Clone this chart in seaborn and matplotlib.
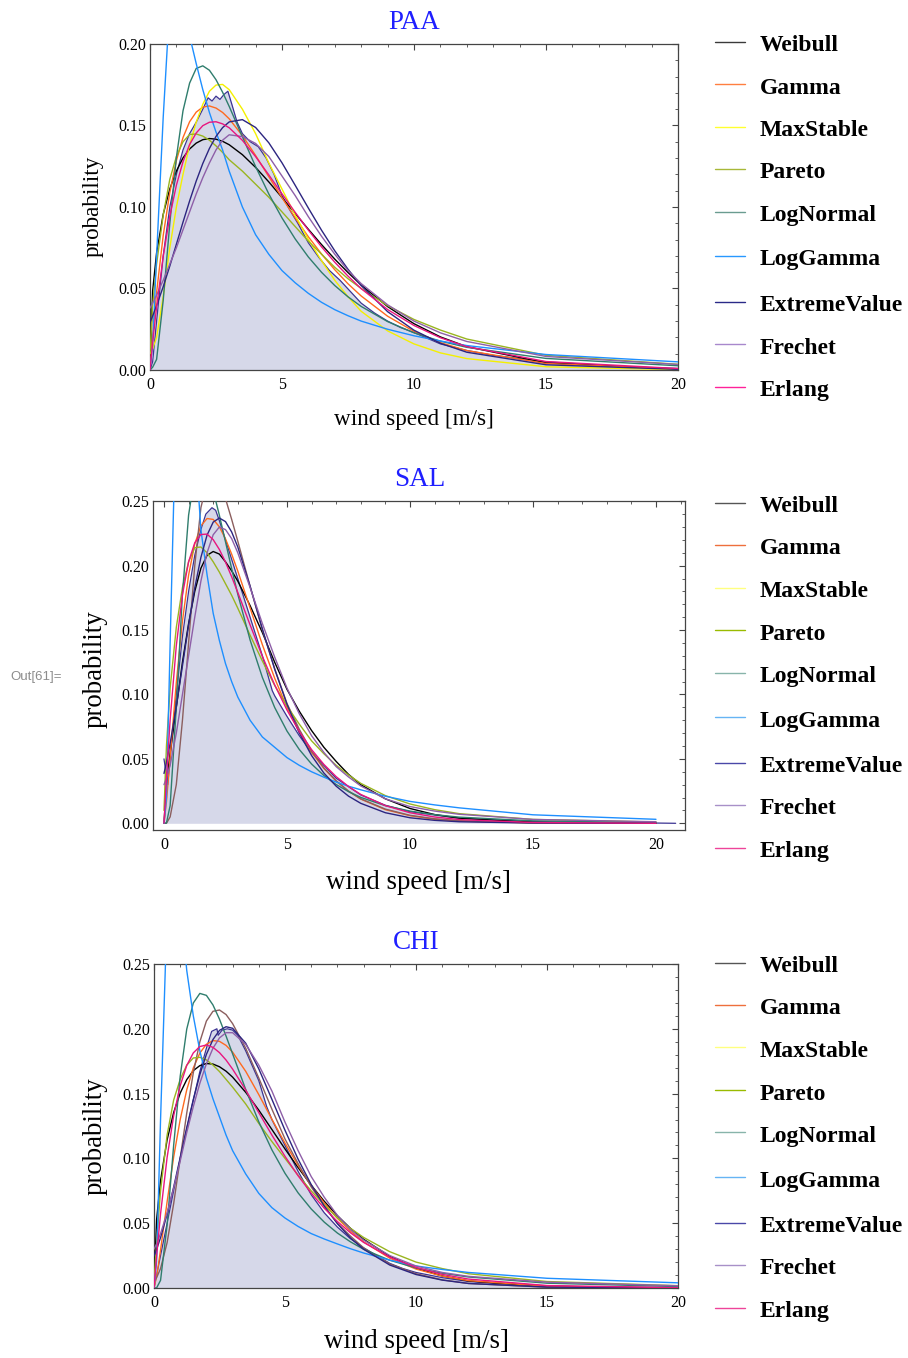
import matplotlib
matplotlib.use("Agg")
import matplotlib.pyplot as plt
from matplotlib.lines import Line2D
from matplotlib.ticker import MultipleLocator, FormatStrFormatter
import pandas as pd
import seaborn as sns

# ---------------- data ----------------
DISTS = ["Weibull", "Gamma", "MaxStable", "Pareto", "LogNormal",
         "LogGamma", "ExtremeValue", "Frechet", "Erlang"]
TITLES = ["PAA", "SAL", "CHI"]

X = [0, 0.1, 0.25, 0.5, 0.75, 1, 1.25, 1.5, 1.75, 2, 2.25, 2.5, 2.75, 3,
     3.5, 4, 4.5, 5, 5.5, 6, 6.5, 7, 7.5, 8, 9, 10, 11, 12, 15, 20]

# PAA
PAA_WEIBULL = [0, 0.0485, 0.0719, 0.0955, 0.1111, 0.1221, 0.1301, 0.1356, 0.1392, 0.1413, 0.142, 0.1416, 0.1403, 0.1382, 0.1321, 0.1243, 0.1154,
               0.1058, 0.096, 0.0863, 0.0769, 0.068, 0.0598, 0.0521, 0.0389, 0.0284, 0.0203, 0.0143, 0.0044, 0.0005]
PAA_GAMMA = [0, 0.0213, 0.0476, 0.0825, 0.1089, 0.1285, 0.1426, 0.1523, 0.1582, 0.1613, 0.162, 0.1607, 0.158, 0.1541, 0.1438, 0.1316, 0.1186,
             0.1057, 0.0933, 0.0817, 0.0711, 0.0615, 0.0529, 0.0454, 0.033, 0.0237, 0.0168, 0.0119, 0.004, 0.0006]
PAA_MAXSTABLE = [0.01, 0.013, 0.02, 0.045, 0.075, 0.1, 0.12, 0.138, 0.152, 0.163, 0.171, 0.1748, 0.1752, 0.172, 0.16, 0.145, 0.127,
                 0.111, 0.095, 0.08, 0.067, 0.055, 0.045, 0.036, 0.024, 0.016, 0.0105, 0.007, 0.002, 0.0002]
PAA_PARETO = [0.01, 0.04, 0.065, 0.095, 0.117, 0.131, 0.14, 0.1445, 0.1448, 0.1435, 0.141, 0.1375, 0.1335, 0.129, 0.122, 0.114, 0.106,
              0.097, 0.088, 0.079, 0.071, 0.063, 0.056, 0.05, 0.0395, 0.031, 0.0245, 0.019, 0.009, 0.0035]
PAA_LOGNORMAL = [0, 0.0017, 0.0065, 0.0427, 0.0899, 0.1305, 0.159, 0.176, 0.185, 0.1866, 0.1839, 0.1781, 0.1704, 0.1617, 0.1431, 0.1248, 0.108,
                 0.0933, 0.0804, 0.0693, 0.0599, 0.0518, 0.0449, 0.039, 0.0297, 0.0228, 0.0177, 0.0139, 0.0071, 0.0026]
PAA_LOGGAMMA = [0, 0.015, 0.07, 0.155, 0.225, 0.255, 0.235, 0.205, 0.188, 0.172, 0.158, 0.146, 0.135, 0.122, 0.1, 0.083, 0.071,
                0.061, 0.0535, 0.047, 0.0415, 0.037, 0.0333, 0.03, 0.025, 0.021, 0.0178, 0.015, 0.0095, 0.005]
PAA_EXTREMEVALUE = [0.0292, 0.0331, 0.0395, 0.0511, 0.0638, 0.0772, 0.0907, 0.1037, 0.1159, 0.1267, 0.1359, 0.1433, 0.1487, 0.1522, 0.1536, 0.1488, 0.1394,
                    0.1271, 0.1133, 0.0993, 0.0857, 0.0731, 0.0618, 0.0518, 0.0358, 0.0244, 0.0164, 0.0109, 0.0032, 0.0004]
PAA_FRECHET = [0.038, 0.041, 0.046, 0.055, 0.065, 0.075, 0.086, 0.097, 0.108, 0.118, 0.127, 0.135, 0.141, 0.1443, 0.1432, 0.139, 0.131,
               0.119, 0.107, 0.094, 0.082, 0.071, 0.061, 0.053, 0.04, 0.03, 0.0228, 0.0175, 0.0083, 0.0034]
PAA_ERLANG = [0, 0.0165, 0.0387, 0.0698, 0.0943, 0.1134, 0.1278, 0.1383, 0.1454, 0.1499, 0.152, 0.1523, 0.151, 0.1486, 0.1409, 0.1309, 0.1197,
              0.1081, 0.0967, 0.0858, 0.0755, 0.0661, 0.0576, 0.0499, 0.0371, 0.0273, 0.0198, 0.0143, 0.0052, 0.0009]
PAA_HIST_X = [0, 0.1, 0.25, 0.5, 0.75, 1.0, 1.25, 1.5, 1.75, 2.0, 2.2, 2.35, 2.5, 2.65, 2.8, 2.95, 3.1, 3.3, 3.5, 3.8, 4.1, 4.4, 4.7, 5.0, 5.3, 5.6, 6.0, 6.4, 6.8, 7.2, 7.6, 8.0, 8.5, 9.0, 9.5, 10, 11, 12, 13, 14, 15, 16, 17, 18, 19, 20]
PAA_HIST_Y = [0, 0.005, 0.03, 0.07, 0.1, 0.12, 0.135, 0.145, 0.152, 0.16, 0.167, 0.165, 0.168, 0.166, 0.169, 0.171, 0.163, 0.152, 0.145, 0.14, 0.137, 0.13, 0.12, 0.107, 0.098, 0.09, 0.078, 0.069, 0.061, 0.055, 0.048, 0.041, 0.035, 0.03, 0.026, 0.023, 0.016, 0.012, 0.009, 0.007, 0.005, 0.004, 0.003, 0.002, 0.0015, 0.001]

# SAL
SAL_WEIBULL = [0, 0.03, 0.055, 0.09, 0.125, 0.155, 0.18, 0.198, 0.208, 0.211, 0.209, 0.203, 0.196, 0.188, 0.169, 0.148, 0.125,
               0.104, 0.087, 0.072, 0.059, 0.048, 0.038, 0.03, 0.019, 0.0115, 0.0068, 0.004, 0.0008, 0.0001]
SAL_GAMMA = [0, 0.0167, 0.0514, 0.1091, 0.157, 0.1927, 0.2168, 0.2309, 0.2366, 0.2359, 0.2302, 0.2208, 0.209, 0.1958, 0.1671, 0.1386, 0.1126,
             0.0899, 0.0709, 0.0552, 0.0426, 0.0327, 0.0249, 0.0188, 0.0106, 0.0059, 0.0032, 0.0017, 0.0003, 0.0]
SAL_MAXSTABLE = [0, 0.0, 0.005, 0.03, 0.08, 0.14, 0.2, 0.245, 0.265, 0.27, 0.265, 0.252, 0.236, 0.219, 0.184, 0.15, 0.12,
                 0.093, 0.073, 0.056, 0.043, 0.033, 0.025, 0.019, 0.011, 0.0062, 0.0035, 0.002, 0.0004, 0.0]
SAL_PARETO = [0.01, 0.06, 0.105, 0.152, 0.183, 0.203, 0.214, 0.2145, 0.21, 0.203, 0.195, 0.186, 0.177, 0.167, 0.146, 0.126, 0.107,
              0.091, 0.077, 0.064, 0.054, 0.045, 0.0375, 0.031, 0.0215, 0.015, 0.0106, 0.0075, 0.003, 0.001]
SAL_LOGNORMAL = [0, 0.0003, 0.0137, 0.09, 0.1778, 0.2392, 0.2705, 0.2791, 0.273, 0.2583, 0.2392, 0.2185, 0.1977, 0.1778, 0.1423, 0.1132, 0.0899,
                 0.0716, 0.0573, 0.046, 0.0371, 0.0301, 0.0246, 0.0201, 0.0137, 0.0095, 0.0067, 0.0048, 0.0019, 0.0005]
SAL_LOGGAMMA = [0, 0.02, 0.14, 0.33, 0.42, 0.38, 0.3, 0.228, 0.193, 0.163, 0.142, 0.124, 0.11, 0.098, 0.08, 0.067, 0.059,
                0.051, 0.045, 0.04, 0.0358, 0.032, 0.0288, 0.026, 0.021, 0.017, 0.0143, 0.012, 0.0066, 0.0031]
SAL_EXTREMEVALUE = [0.0387, 0.0473, 0.0621, 0.0907, 0.1222, 0.1539, 0.1827, 0.2064, 0.2237, 0.2338, 0.237, 0.2342, 0.2262, 0.2145, 0.1841, 0.1509, 0.1196,
                    0.0924, 0.0702, 0.0526, 0.039, 0.0288, 0.0211, 0.0155, 0.0082, 0.0043, 0.0023, 0.0012, 0.0002, 0.0]
SAL_FRECHET = [0.03, 0.035, 0.045, 0.07, 0.1, 0.13, 0.16, 0.188, 0.21, 0.224, 0.23, 0.228, 0.221, 0.21, 0.183, 0.155, 0.129,
               0.105, 0.085, 0.068, 0.055, 0.044, 0.036, 0.029, 0.019, 0.013, 0.0095, 0.007, 0.003, 0.0012]
SAL_ERLANG = [0, 0.0352, 0.0803, 0.1378, 0.1774, 0.203, 0.2177, 0.2242, 0.2245, 0.2202, 0.2126, 0.2028, 0.1914, 0.1792, 0.154, 0.1296, 0.1074,
              0.0879, 0.0712, 0.0572, 0.0457, 0.0362, 0.0286, 0.0224, 0.0137, 0.0082, 0.0049, 0.0029, 0.0006, 0.0]
SAL_HIST_X = [0, 0.15, 0.3, 0.5, 0.75, 1.0, 1.25, 1.5, 1.7, 1.85, 1.95, 2.1, 2.25, 2.5, 2.75, 3.0, 3.5, 4.0, 4.4, 4.5, 5.0, 5.5, 6.0, 7.0, 8.0, 9.0, 10, 12, 14, 16, 18, 20, 20.8]
SAL_HIST_Y = [0.05, 0.03, 0.06, 0.1, 0.145, 0.18, 0.208, 0.228, 0.24, 0.243, 0.245, 0.243, 0.235, 0.22, 0.205, 0.19, 0.16, 0.13, 0.103, 0.099, 0.083, 0.068, 0.055, 0.035, 0.022, 0.014, 0.009, 0.004, 0.002, 0.001, 0.0005, 0.0002, 0.0]

# CHI
CHI_WEIBULL = [0, 0.053, 0.0829, 0.1143, 0.1354, 0.1504, 0.1608, 0.1677, 0.1716, 0.1732, 0.1728, 0.1707, 0.1673, 0.1627, 0.151, 0.1372, 0.1223,
               0.1073, 0.0929, 0.0793, 0.0669, 0.0558, 0.046, 0.0376, 0.0244, 0.0153, 0.0093, 0.0055, 0.001, 0.0]
CHI_GAMMA = [0, 0.0089, 0.0293, 0.0665, 0.101, 0.13, 0.1529, 0.1698, 0.1813, 0.1881, 0.1909, 0.1903, 0.1872, 0.182, 0.1672, 0.1492, 0.1302,
             0.1118, 0.0946, 0.0791, 0.0655, 0.0538, 0.0439, 0.0356, 0.023, 0.0146, 0.0092, 0.0057, 0.0013, 0.0001]
CHI_MAXSTABLE = [0.005, 0.008, 0.015, 0.035, 0.065, 0.1, 0.135, 0.166, 0.19, 0.206, 0.2135, 0.2145, 0.211, 0.204, 0.185, 0.162, 0.138,
                 0.115, 0.096, 0.078, 0.063, 0.05, 0.04, 0.031, 0.0185, 0.011, 0.0063, 0.0035, 0.0006, 0.0]
CHI_PARETO = [0.005, 0.035, 0.075, 0.118, 0.145, 0.161, 0.172, 0.1775, 0.178, 0.176, 0.172, 0.167, 0.161, 0.155, 0.142, 0.127, 0.113,
              0.1, 0.087, 0.075, 0.064, 0.054, 0.046, 0.039, 0.028, 0.02, 0.015, 0.011, 0.005, 0.0018]
CHI_LOGNORMAL = [0, 0.0001, 0.0059, 0.0486, 0.11, 0.1634, 0.1998, 0.2199, 0.2273, 0.2258, 0.2184, 0.2074, 0.1944, 0.1807, 0.1532, 0.1282, 0.1066,
                 0.0885, 0.0734, 0.061, 0.0508, 0.0424, 0.0356, 0.0299, 0.0214, 0.0155, 0.0114, 0.0085, 0.0037, 0.0011]
CHI_LOGGAMMA = [0, 0.02, 0.13, 0.29, 0.34, 0.3, 0.245, 0.21, 0.183, 0.162, 0.146, 0.132, 0.118, 0.106, 0.088, 0.073, 0.062,
                0.054, 0.0475, 0.042, 0.0378, 0.034, 0.0303, 0.027, 0.0215, 0.017, 0.0143, 0.012, 0.0075, 0.004]
CHI_EXTREMEVALUE = [0.0246, 0.0298, 0.0389, 0.0568, 0.0778, 0.1006, 0.1237, 0.1454, 0.1647, 0.1803, 0.1917, 0.1988, 0.2016, 0.2004, 0.1889, 0.1691, 0.1456,
                    0.1217, 0.0994, 0.0798, 0.0632, 0.0496, 0.0386, 0.0299, 0.0177, 0.0104, 0.0061, 0.0035, 0.0007, 0.0]
CHI_FRECHET = [0.03, 0.034, 0.042, 0.058, 0.077, 0.098, 0.12, 0.14, 0.158, 0.173, 0.185, 0.193, 0.197, 0.197, 0.188, 0.172, 0.152,
               0.128, 0.106, 0.086, 0.07, 0.056, 0.045, 0.037, 0.025, 0.017, 0.012, 0.009, 0.0045, 0.0017]
CHI_ERLANG = [0, 0.0247, 0.0572, 0.1007, 0.1329, 0.1561, 0.1717, 0.1814, 0.1863, 0.1875, 0.1857, 0.1816, 0.1759, 0.1689, 0.1528, 0.1353, 0.118,
              0.1016, 0.0866, 0.0732, 0.0615, 0.0513, 0.0426, 0.0352, 0.0238, 0.0159, 0.0105, 0.0069, 0.0019, 0.0002]
CHI_HIST_X = [0, 0.1, 0.25, 0.5, 0.75, 1, 1.25, 1.5, 1.75, 2, 2.2, 2.4, 2.45, 2.6, 2.8, 3.0, 3.2, 3.5, 4, 4.3, 4.5, 5, 5.5, 6, 6.5, 7, 7.5, 8, 8.5, 9, 9.5, 10, 11, 12, 13, 14, 15, 16, 18, 20]
CHI_HIST_Y = [0, 0.01, 0.025, 0.05, 0.075, 0.1, 0.123, 0.145, 0.167, 0.185, 0.198, 0.2, 0.195, 0.199, 0.2, 0.199, 0.195, 0.183, 0.16, 0.14, 0.13, 0.11, 0.09, 0.072, 0.058, 0.047, 0.038, 0.031, 0.025, 0.019, 0.015, 0.012, 0.008, 0.005, 0.0035, 0.0025, 0.0018, 0.0012, 0.0006, 0.0003]

# ---------------- styling ----------------
CURVE_COLORS_PAA = ["#000000", "#ff6a1f", "#f4f000", "#9ab520", "#2f7d6d",
                    "#1e8fff", "#2c2580", "#8e5fa8", "#e8157f"]
CURVE_COLORS_OTHER = ["#000000", "#ff6a1f", "#8b5e5e", "#9ab520", "#2f7d6d",
                      "#1e8fff", "#2c2580", "#8e5fa8", "#e8157f"]
LEGEND_COLORS_PAA = ["#3a3a3a", "#ff7f40", "#ffff30", "#a8b838", "#6a9c90",
                     "#2898ff", "#2a2a88", "#a888cc", "#ff2299"]
LEGEND_COLORS_OTHER = ["#555555", "#ee6f3c", "#ffff80", "#99bb00", "#88b4aa",
                       "#66b4f4", "#4a48a8", "#a890c8", "#ee4499"]
HIST_FILL = "#d6d8e9"
HIST_EDGE = "#3c3493"

W, H = 908, 1358
sns.set_theme(style="white")
plt.rcParams["font.family"] = ["Liberation Serif", "DejaVu Serif"]
plt.rcParams["axes.unicode_minus"] = False
plt.rcParams["text.color"] = "black"
plt.rcParams["axes.labelcolor"] = "black"
plt.rcParams["xtick.color"] = "black"
plt.rcParams["ytick.color"] = "black"

fig = plt.figure(figsize=(W / 100, H / 100), dpi=100)


def fx(px):
    return px / W


def fy(py):
    return 1 - py / H


PANELS = [
    dict(box=(150, 678, 44, 370), xlim=(0, 20), ylim=(0, 0.20),
         curves=[PAA_WEIBULL, PAA_GAMMA, PAA_MAXSTABLE, PAA_PARETO, PAA_LOGNORMAL,
                 PAA_LOGGAMMA, PAA_EXTREMEVALUE, PAA_FRECHET, PAA_ERLANG],
         hist=(PAA_HIST_X, PAA_HIST_Y), colors=CURVE_COLORS_PAA,
         lcolors=LEGEND_COLORS_PAA, lab=16.7, title_px=(414, 23),
         xlab_px=(414, 420), ylab_px=(93, 206),
         leg_y=[41.7, 84, 126.7, 169, 211.7, 256, 301.7, 344, 386.7]),
    dict(box=(153, 685, 501, 830), xlim=(-0.447, 21.18), ylim=(-0.0052, 0.2502),
         curves=[SAL_WEIBULL, SAL_GAMMA, SAL_MAXSTABLE, SAL_PARETO, SAL_LOGNORMAL,
                 SAL_LOGGAMMA, SAL_EXTREMEVALUE, SAL_FRECHET, SAL_ERLANG],
         hist=(SAL_HIST_X, SAL_HIST_Y), colors=CURVE_COLORS_OTHER,
         lcolors=LEGEND_COLORS_OTHER, lab=19.4, title_px=(420, 480),
         xlab_px=(419, 882), ylab_px=(95, 669),
         leg_y=[502.7, 545, 587.7, 630, 672.7, 717, 762.7, 805, 847.7]),
    dict(box=(154, 678, 964, 1288), xlim=(0, 20), ylim=(0, 0.25),
         curves=[CHI_WEIBULL, CHI_GAMMA, CHI_MAXSTABLE, CHI_PARETO, CHI_LOGNORMAL,
                 CHI_LOGGAMMA, CHI_EXTREMEVALUE, CHI_FRECHET, CHI_ERLANG],
         hist=(CHI_HIST_X, CHI_HIST_Y), colors=CURVE_COLORS_OTHER,
         lcolors=LEGEND_COLORS_OTHER, lab=19.4, title_px=(416, 943),
         xlab_px=(416, 1342), ylab_px=(95, 1136),
         leg_y=[962.7, 1005, 1047.3, 1090, 1132.3, 1177.3, 1222.7, 1265, 1307.7]),
]

for title, p in zip(TITLES, PANELS):
    for vals in p["curves"]:
        assert len(vals) == len(X), (title, len(vals))
    assert len(p["hist"][0]) == len(p["hist"][1]), title

    l, r, t, b = p["box"]
    ax = fig.add_axes([fx(l), fy(b), (r - l) / W, (b - t) / H])
    ax.set_facecolor("white")

    hx, hy = p["hist"]
    ax.fill_between(hx, 0, hy, color=HIST_FILL, lw=0, zorder=1)
    hdf = pd.DataFrame({"x": hx, "y": hy})
    sns.lineplot(data=hdf, x="x", y="y", color=HIST_EDGE, lw=0.9,
                 estimator=None, ax=ax, zorder=2)

    rows = []
    for name, vals in zip(DISTS, p["curves"]):
        for xv, yv in zip(X, vals):
            rows.append((xv, yv, name))
    df = pd.DataFrame(rows, columns=["x", "y", "dist"])
    sns.lineplot(data=df, x="x", y="y", hue="dist", hue_order=DISTS,
                 palette=dict(zip(DISTS, p["colors"])), estimator=None,
                 lw=1.0, legend=False, ax=ax, zorder=3)

    ax.set_xlim(*p["xlim"])
    ax.set_ylim(*p["ylim"])
    ax.xaxis.set_major_locator(MultipleLocator(5))
    ax.xaxis.set_minor_locator(MultipleLocator(1))
    ax.yaxis.set_major_locator(MultipleLocator(0.05))
    ax.yaxis.set_minor_locator(MultipleLocator(0.01))
    ax.yaxis.set_major_formatter(FormatStrFormatter("%.2f"))
    ax.xaxis.set_major_formatter(FormatStrFormatter("%d"))
    ax.tick_params(which="both", direction="in", top=True, right=True,
                   color="#444444", labelcolor="black", labelsize=11.5)
    ax.tick_params(which="major", length=4.3, width=0.8)
    ax.tick_params(which="minor", length=2.5, width=0.6)
    ax.tick_params(axis="x", pad=5)
    ax.tick_params(axis="y", pad=3)
    for s in ax.spines.values():
        s.set_color("#444444")
        s.set_linewidth(0.9)

    w, h = r - l, b - t
    ax.set_xlabel("wind speed [m/s]", fontsize=p["lab"], color="black")
    ax.xaxis.set_label_coords((p["xlab_px"][0] - l) / w, (b - p["xlab_px"][1]) / h)
    ax.xaxis.label.set_va("center")
    ax.set_ylabel("probability", fontsize=p["lab"], color="black")
    ax.yaxis.set_label_coords((p["ylab_px"][0] - l) / w, (b - p["ylab_px"][1]) / h)
    ax.yaxis.label.set_va("center")
    ax.text((p["title_px"][0] - l) / w, (b - p["title_px"][1]) / h, title,
            transform=ax.transAxes, ha="center", va="center", fontsize=19.5,
            color="#1f1fff")

    # legend (separate graphic on the right)
    for name, yl, c in zip(DISTS, p["leg_y"], p["lcolors"]):
        fig.add_artist(Line2D([fx(715), fx(745)], [fy(yl), fy(yl)], color=c, lw=1.0))
        fig.text(fx(760), fy(yl + 9.5), name, fontsize=17, fontweight="bold",
                 ha="left", va="baseline", color="black")

fig.text(fx(10), fy(677), "Out[61]=", fontsize=9.5, color="#8c8c8c",
         family=["Liberation Sans", "DejaVu Sans"], ha="left", va="center")

fig.savefig("out.png", dpi=100)
